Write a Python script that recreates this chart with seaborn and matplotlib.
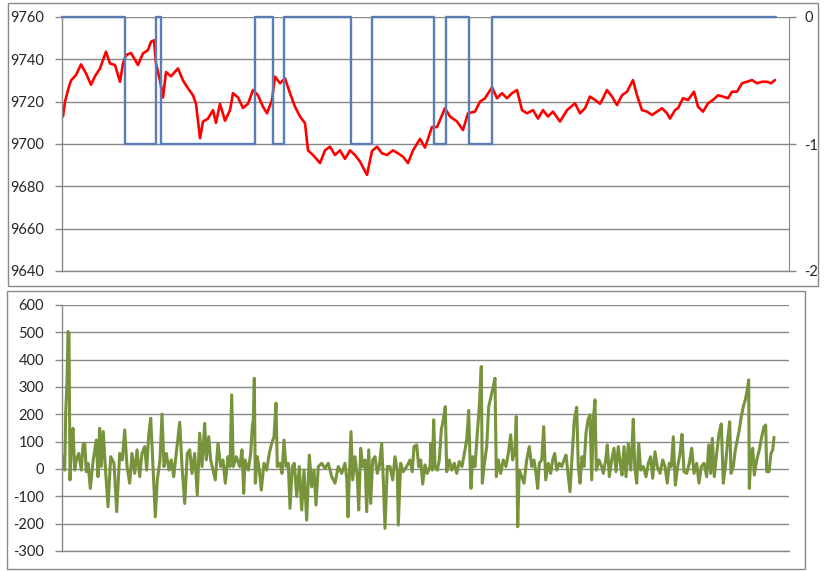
import matplotlib
matplotlib.use("Agg")
import matplotlib.pyplot as plt
import seaborn as sns
from matplotlib.patches import Rectangle

sns.set_style("white")
plt.rcParams["font.family"] = ["Lato", "DejaVu Sans"]
plt.rcParams["axes.unicode_minus"] = False

# price (red, left axis) as (sample, value)
price_pts = [
    (1, 9713), (3, 9720), (6, 9725.5), (9, 9730), (14, 9732.6), (19, 9737.6),
    (24, 9733.4), (29, 9728), (33, 9732), (38, 9735.7), (44, 9743.6), (48, 9738),
    (53, 9737.3), (58, 9729.4), (61, 9738), (64, 9742), (69, 9743), (76, 9737.3),
    (81, 9742.8), (86, 9744.4), (89, 9748.3), (92, 9749), (94, 9738), (98, 9730),
    (101, 9722), (104, 9734), (109, 9732), (116, 9735.7), (121, 9730), (126, 9726.3),
    (131, 9723), (134, 9719), (138, 9702.7), (141, 9710.6), (146, 9712), (151, 9716),
    (154, 9710), (158, 9719), (163, 9711), (168, 9716), (171, 9724), (176, 9722),
    (181, 9717), (186, 9719), (191, 9725.5), (196, 9723), (201, 9717.6), (205, 9714.5),
    (210, 9720.8), (213, 9731.8), (218, 9728.7), (223, 9731), (228, 9724), (233, 9717.6),
    (238, 9713), (243, 9709.8), (246, 9697), (251, 9694.8), (258, 9691), (263, 9697),
    (268, 9698.7), (273, 9694.8), (278, 9697), (283, 9693), (288, 9697), (293, 9694.8),
    (298, 9691.7), (305, 9685.4), (310, 9696.7), (315, 9698.7), (320, 9695.6), (325, 9694.8),
    (331, 9697), (336, 9695.6), (341, 9694), (346, 9691), (351, 9697), (358, 9702.4),
    (363, 9698.3), (370, 9708), (375, 9708), (383, 9716.9), (388, 9713), (395, 9710.6),
    (401, 9706.6), (406, 9714.5), (413, 9715.3), (418, 9720), (423, 9721.6), (430, 9726.8),
    (435, 9721.6), (440, 9724), (445, 9721.6), (450, 9724), (455, 9725.5), (460, 9716),
    (465, 9714.5), (471, 9716), (476, 9712), (481, 9716), (486, 9713), (491, 9715.3),
    (498, 9710.6), (505, 9716), (513, 9719.2), (518, 9714.5), (523, 9716.9), (528, 9722.4),
    (533, 9720.8), (538, 9719), (541, 9721.6), (545, 9725.5), (550, 9722.4), (555, 9718.4),
    (560, 9723), (565, 9724.7), (571, 9730.2), (575, 9723), (580, 9716), (585, 9715.3),
    (590, 9713.7), (595, 9715.3), (600, 9716.9), (605, 9714.5), (608, 9712), (613, 9716),
    (616, 9716.9), (621, 9721.6), (626, 9720.8), (632, 9724.7), (636, 9717.6), (641, 9715.3),
    (646, 9719.2), (651, 9720.8), (656, 9723), (661, 9722.4), (666, 9721.6), (670, 9724.7),
    (675, 9724.7), (680, 9728.7), (685, 9729.4), (690, 9730.2), (695, 9728.7), (700, 9729.4),
    (705, 9729.4), (709, 9728.7), (713, 9730.2),
]

# position signal (blue, right axis): 0 or -1, switching at these samples
signal_t = [0, 63, 94, 99, 193, 211, 222, 289, 310, 372, 384, 407, 430, 714]
signal_v = [0, -1, 0, -1, 0, -1, 0, -1, 0, -1, 0, -1, 0, 0]

# lower chart (green) as (sample, value)
diff_pts = [
    (1, 45), (2.7, -4), (3.7, 204), (5, 320), (6, 503), (7, 497), (8, -40), (9.3, 82),
    (11, 149), (12.7, -4), (14.3, 33), (16.7, 57), (19.3, -4), (21, 88), (22.7, 94),
    (24.3, -10), (26, 21), (28.3, -71), (31, 27), (34.3, 106), (36, -28), (37.7, 149),
    (39.3, 9), (41.3, 137), (43.3, 9), (46, -138), (48.7, 45), (52, 21), (54.7, -156),
    (57.7, 57), (60.3, 33), (62.7, 143), (65, 9), (67.7, -52), (70, 57), (72.7, -16),
    (75, 70), (77.7, -28), (80, 57), (82.7, 82), (84.7, -4), (86.7, 125), (88.7, 186),
    (90.7, 33), (93.3, -175), (95.3, -40), (98, 33), (100, 201), (102, 9), (104.3, 57),
    (107, -4), (109.3, 33), (111.7, -28), (114.3, 57), (117.7, 171), (120, 9), (122.7, -126),
    (125.3, 57), (127.7, 70), (130, -16), (132.7, 57), (135.3, -95), (137.7, 131), (140, 9),
    (142.7, 167), (144.3, 33), (146.7, 118), (148.7, 33), (151, -4), (153.3, -40), (156, 94),
    (158.7, 9), (161, 33), (163.3, -52), (166, 45), (168, 9), (169.7, 271), (171.3, 9),
    (174.3, 45), (177.7, 9), (180, 70), (181.7, -89), (183, 33), (186.3, -4), (188.7, 57),
    (190.3, 155), (191.3, 180), (192.3, 332), (193.3, -52), (195.3, 45), (197.3, -4),
    (199.3, -77), (202, 21), (204.7, -4), (207.3, 57), (209.7, 94), (212, 118), (214, 241),
    (215.3, 9), (218, 21), (220, -16), (222, 106), (224, 9), (226.3, 21), (228, -144),
    (230.3, 9), (232.3, 21), (234.7, -101), (237.3, 9), (239.7, -150), (242, -4),
    (244.7, -187), (247.3, 51), (249.7, -65), (252, -4), (254, -132), (256.3, 9), (259.7, 21),
    (263, 2), (266.3, 21), (269.7, -28), (273, -52), (276.3, 9), (279.7, -16), (283, 21),
    (284.7, -34), (286, -175), (287.3, -28), (289, 137), (290.7, -40), (293, 45),
    (295.3, -28), (296.7, -150), (298.7, 76), (300.7, 9), (303, 33), (304.7, -156),
    (306.7, 70), (308.7, -126), (310.7, 33), (313, 45), (315.3, -16), (317.3, 9), (319.7, 94),
    (321.3, -40), (323, -217), (325.3, 9), (328, 9), (330.7, -40), (333, 45), (335.3, -4),
    (336.3, -205), (338.7, 21), (341.3, -10), (344.7, 9), (348, 33), (350.3, -10), (352, 82),
    (354.7, 88), (356.7, 9), (358.7, 33), (360.7, -55), (363, 15), (365.3, -16), (368, 9),
    (369, 94), (370.3, -4), (371.7, 180), (373, 9), (375.3, -4), (377.3, 33), (379.3, 143),
    (381.3, 180), (383.3, 228), (384.7, -10), (387.3, 33), (389.7, -4), (392.3, 21),
    (394.7, -16), (397.3, 27), (400, 9), (402.3, 57), (404.7, 106), (406.7, 214), (408, 33),
    (409, -71), (410.7, 45), (413, 9), (415.3, 131), (417.3, 228), (419.3, 375), (420.3, -52),
    (422, 9), (424.7, 82), (426.7, 228), (429, 265), (431.3, 302), (433, 332), (434.3, -28),
    (436.3, 33), (438.7, -16), (441.3, 33), (444, 9), (446.3, 57), (448.7, 125), (450.7, 33),
    (453, 70), (454.3, 192), (455.7, -211), (457.3, -4), (459.7, -28), (462, -52),
    (464.7, 33), (467.3, 82), (469.7, 9), (472, 33), (474, -16), (475.7, -71), (477.3, 21),
    (479.7, 33), (481.7, 155), (483.7, -40), (486.3, 21), (488.7, -16), (490.7, 33),
    (492.7, 57), (494.7, -4), (497.3, 21), (499.7, 9), (502, 33), (504, 51), (506.3, -28),
    (508, -83), (510.3, 57), (512.3, 180), (514.7, 226), (516.3, 9), (518, -52), (520, 45),
    (522, 9), (524, 131), (526, 180), (528, 198), (529.7, -40), (531.3, 180), (533, 253),
    (534.3, -4), (537, 33), (539.7, 9), (541.3, -16), (543.7, 33), (545.3, 88), (547.3, -28),
    (549.7, 33), (552, 76), (554, -10), (556.3, 82), (558.7, 9), (560, -22), (562, 82),
    (564, -28), (566.3, 94), (568.7, -4), (570, 82), (571.3, 182), (572.7, 9), (574.7, -52),
    (576.7, 94), (578.7, -4), (581.3, 9), (584, -28), (586.3, 21), (588.7, 45), (590.7, -34),
    (593, 63), (595.3, 9), (598, -16), (600.7, 33), (603, 9), (605.3, -52), (607.3, 21),
    (609.3, 9), (611.3, 118), (613.3, -59), (615.7, 9), (618, 57), (620, 127), (622, -10),
    (624.7, -16), (627.3, 21), (629.7, 76), (632, -16), (634.7, 21), (637, -52), (639.3, 9),
    (642, 21), (644.7, -28), (646.7, 88), (648.7, -16), (650.3, 112), (652.3, -28),
    (654.7, 57), (657, 131), (659.3, 165), (661.3, -52), (663.7, 21), (666, 118), (667.7, 173),
    (669, -16), (671.3, 9), (673.3, 70), (675.3, 106), (677.3, 143), (679.3, 192),
    (681.3, 228), (683.3, 253), (685.3, 289), (686.7, 326), (687.3, -71), (689, 57),
    (690.7, 76), (692.3, -22), (694.7, 33), (697.3, 70), (699.7, 118), (702, 155),
    (703.7, 161), (704.7, -10), (707, -10), (709, 57), (710.7, 70), (712, 116),
]

price_t, price_v = map(list, zip(*price_pts))
diff_t, diff_v = map(list, zip(*diff_pts))

RED = "#ff0000"
BLUE = "#5a7db3"
GREEN = "#77933c"
GRID = "#888888"

W, H = 826, 571
fig = plt.figure(figsize=(W / 100, H / 100), dpi=100)


def px_rect(x0, y0, x1, y1):
    # pixel box (top-left origin) -> figure fraction [left, bottom, w, h]
    return [x0 / W, 1 - y1 / H, (x1 - x0) / W, (y1 - y0) / H]


# chart frames like the Excel chart objects
for box in [(8, 3, 818, 286), (7, 291, 805, 569)]:
    l, b, w, h = px_rect(*box)
    fig.patches.append(Rectangle((l, b), w, h, transform=fig.transFigure,
                                 fill=False, edgecolor=GRID, lw=1))


def style_axis(ax):
    ax.set_xlim(0, 727)
    ax.set_xticks([])
    ax.set_xlabel("")
    ax.set_ylabel("")
    ax.yaxis.grid(True, color=GRID, lw=1)
    ax.set_axisbelow(True)
    for side in ["top", "right"]:
        ax.spines[side].set_visible(False)
    for side in ["left", "bottom"]:
        ax.spines[side].set_color(GRID)
        ax.spines[side].set_linewidth(1)
    ax.tick_params(axis="y", left=True, length=5, width=1, color=GRID,
                   labelsize=10.5, pad=8)


# top chart: price + signal
ax1 = fig.add_axes(px_rect(62, 17, 789, 271))
sns.lineplot(x=price_t, y=price_v, ax=ax1, color=RED, linewidth=1.9,
             estimator=None)
style_axis(ax1)
ax1.set_ylim(9640, 9760)
ax1.set_yticks(range(9640, 9761, 20))

ax2 = ax1.twinx()
sns.lineplot(x=signal_t, y=signal_v, ax=ax2, color=BLUE, linewidth=1.7,
             estimator=None, drawstyle="steps-post", clip_on=False)
ax2.set_ylim(-2, 0)
ax2.set_yticks([-2, -1, 0])
ax2.set_xlim(0, 727)
ax2.set_ylabel("")
for side in ["top", "left", "bottom"]:
    ax2.spines[side].set_visible(False)
ax2.spines["right"].set_color(GRID)
ax2.tick_params(axis="y", right=True, length=5, width=1, color=GRID,
                labelsize=10.5, pad=6)

# bottom chart
ax3 = fig.add_axes(px_rect(62, 305, 789, 551))
sns.lineplot(x=diff_t, y=diff_v, ax=ax3, color=GREEN, linewidth=2.2,
             estimator=None)
style_axis(ax3)
ax3.set_ylim(-300, 600)
ax3.set_yticks(range(-300, 601, 100))

fig.savefig("out.png", dpi=100)
